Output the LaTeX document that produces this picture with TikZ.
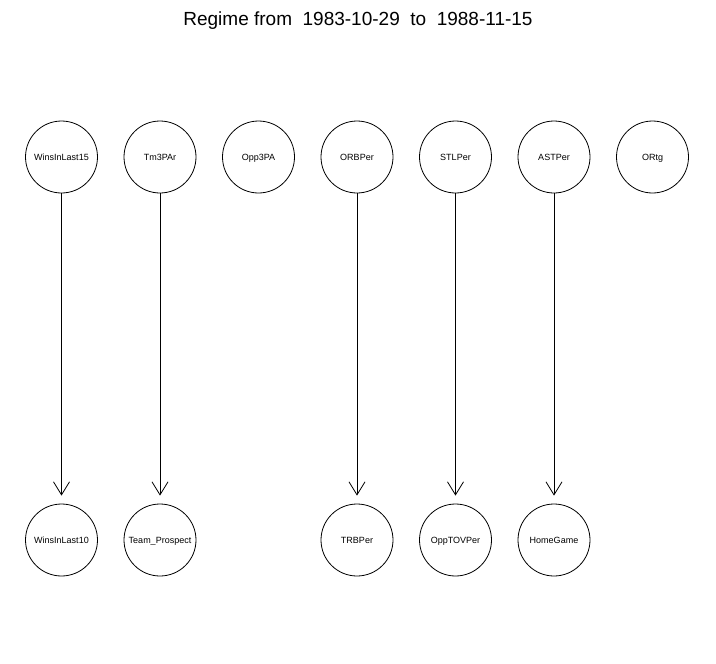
\documentclass[tikz,border=0pt]{standalone}
\usepackage{fontspec}
\setmainfont{Liberation Sans}
\usetikzlibrary{arrows.meta}
\begin{document}
\begin{tikzpicture}[x=1pt,y=-1pt,
  var/.style={circle,draw,line width=0.8pt,minimum size=72pt,inner sep=0pt,text height=6.5pt,text depth=0pt,font=\fontsize{9}{10}\selectfont},
  edge/.style={line width=0.8pt,-{Straight Barb[length=13pt,width=16pt,line width=0.8pt]},shorten >=8pt}]
\useasboundingbox[fill=white] (0,0) rectangle (716,664);
\node[font=\fontsize{19}{22}\selectfont] (title) at (358,21) {Regime from\ \ 1983-10-29\ \ to\ \ 1988-11-15};
\node[var] (w15) at (61.5,157) {WinsInLast15};
\node[var] (tm3) at (160,157) {Tm3PAr};
\node[var] (opp3) at (258.5,157) {Opp3PA};
\node[var] (orb) at (357,157) {ORBPer};
\node[var] (stl) at (455.5,157) {STLPer};
\node[var] (ast) at (554,157) {ASTPer};
\node[var] (ortg) at (652.5,157) {ORtg};
\node[var] (w10) at (61.5,540) {WinsInLast10};
\node[var] (tp) at (160,540) {Team\_Prospect};
\node[var] (trb) at (357,540) {TRBPer};
\node[var] (otov) at (455.5,540) {OppTOVPer};
\node[var] (home) at (554,540) {HomeGame};
\draw[edge] (w15) -- (w10);
\draw[edge] (tm3) -- (tp);
\draw[edge] (orb) -- (trb);
\draw[edge] (stl) -- (otov);
\draw[edge] (ast) -- (home);
\end{tikzpicture}
\end{document}
